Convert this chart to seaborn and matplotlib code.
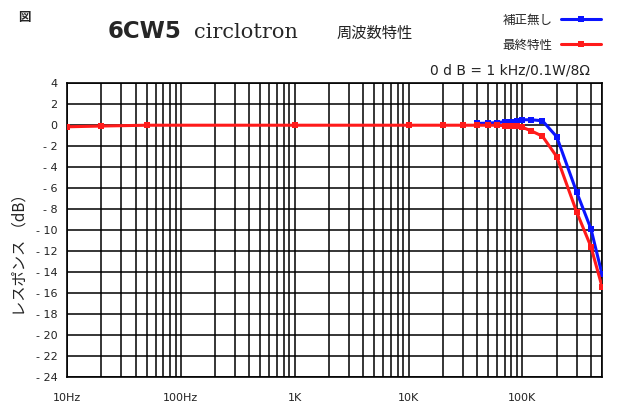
import matplotlib
matplotlib.use("Agg")
import matplotlib.pyplot as plt
from matplotlib.ticker import LogLocator, FixedLocator, NullFormatter
import seaborn as sns
import pandas as pd

# ---- data ----
red_freq = [10, 20, 50, 1000, 10000, 20000, 30000, 40000, 50000, 60000, 70000,
            80000, 90000, 100000, 120000, 150000, 200000, 300000, 400000, 500000]
red_db = [-0.15, -0.08, 0.0, 0.0, 0.0, 0.0, 0.0, 0.0, 0.0, 0.0, -0.05,
          -0.08, -0.12, -0.2, -0.55, -1.05, -3.0, -8.3, -11.6, -15.4]
blue_freq = [40000, 50000, 60000, 70000, 80000, 90000, 100000, 120000, 150000,
             200000, 300000, 400000, 500000]
blue_db = [0.17, 0.2, 0.25, 0.33, 0.35, 0.42, 0.52, 0.52, 0.42,
           -1.1, -6.4, -9.9, -14.2]
xtick_vals = [10, 100, 1000, 10000, 100000]
xtick_labels = ["10Hz", "100Hz", "1K", "10K", "100K"]
ytick_vals = list(range(4, -25, -2))
ytick_labels = [str(v) if v >= 0 else "- " + str(-v) for v in ytick_vals]
series_names = ["補正無し", "最終特性"]

sns.set_style("white")
plt.rcParams["font.family"] = ["Noto Sans CJK JP", "DejaVu Sans"]

fig = plt.figure(figsize=(6.2, 4.2), dpi=100)
ax = fig.add_axes([67 / 620, 1 - 376.7 / 420, (602 - 67) / 620, (376.7 - 83.3) / 420])
ax.set_xscale("log")

df_blue = pd.DataFrame({"f": blue_freq, "db": blue_db})
df_red = pd.DataFrame({"f": red_freq, "db": red_db})
sns.lineplot(data=df_blue, x="f", y="db", ax=ax, color="#0a14ff", lw=2.2,
             marker="s", markersize=4, markeredgewidth=0, label=series_names[0],
             zorder=3)
sns.lineplot(data=df_red, x="f", y="db", ax=ax, color="#ff1a1a", lw=2.2,
             marker="s", markersize=4, markeredgewidth=0, label=series_names[1],
             zorder=4)

ax.set_xlim(10, 500000)
ax.set_ylim(-24, 4)
ax.xaxis.set_major_locator(FixedLocator(xtick_vals))
ax.set_xticklabels(xtick_labels, fontsize=8, color="#222222", family="DejaVu Sans")
ax.xaxis.set_minor_locator(LogLocator(base=10, subs=[2, 3, 4, 5, 6, 7, 8, 9], numticks=20))
ax.xaxis.set_minor_formatter(NullFormatter())
ax.set_yticks(ytick_vals)
ax.set_yticklabels(ytick_labels, fontsize=8, color="#222222", family="DejaVu Sans")
ax.tick_params(axis="both", which="both", length=0)
ax.tick_params(axis="x", pad=12)
ax.tick_params(axis="y", pad=7)
ax.grid(True, which="both", color="black", lw=1.1, zorder=1)
for s in ax.spines.values():
    s.set_color("black")
    s.set_linewidth(1.2)
ax.set_xlabel("")
ax.set_ylabel("")

handles, labels = ax.get_legend_handles_labels()
ax.get_legend().remove()
fig.legend(handles, labels, loc="upper right", bbox_to_anchor=(0.988, 0.995),
           markerfirst=False, frameon=False, fontsize=9, handlelength=3.2,
           labelspacing=1.0, handletextpad=0.7)

fig.text(0.032, 1 - 251 / 420, "レスポンス （dB）", rotation=90, ha="center",
         va="center", fontsize=11, color="#222222")
fig.text(18 / 620, 1 - 17 / 420, "図", ha="left", va="center", fontsize=9,
         fontweight="bold")
fig.text(108 / 620, 1 - 31 / 420, "6CW5", ha="left", va="center", fontsize=16.5,
         fontweight="bold", family="DejaVu Sans")
fig.text(194 / 620, 1 - 33 / 420, "circlotron", ha="left", va="center",
         fontsize=15, family="DejaVu Serif")
fig.text(337 / 620, 1 - 33 / 420, "周波数特性", ha="left", va="center",
         fontsize=11, color="#222222")
fig.text(590 / 620, 1 - 70 / 420, "0 d B = 1 kHz/0.1W/8Ω", ha="right",
         va="center", fontsize=10, color="#222222", family="DejaVu Sans")

fig.savefig("out.png", dpi=100, facecolor="white")
